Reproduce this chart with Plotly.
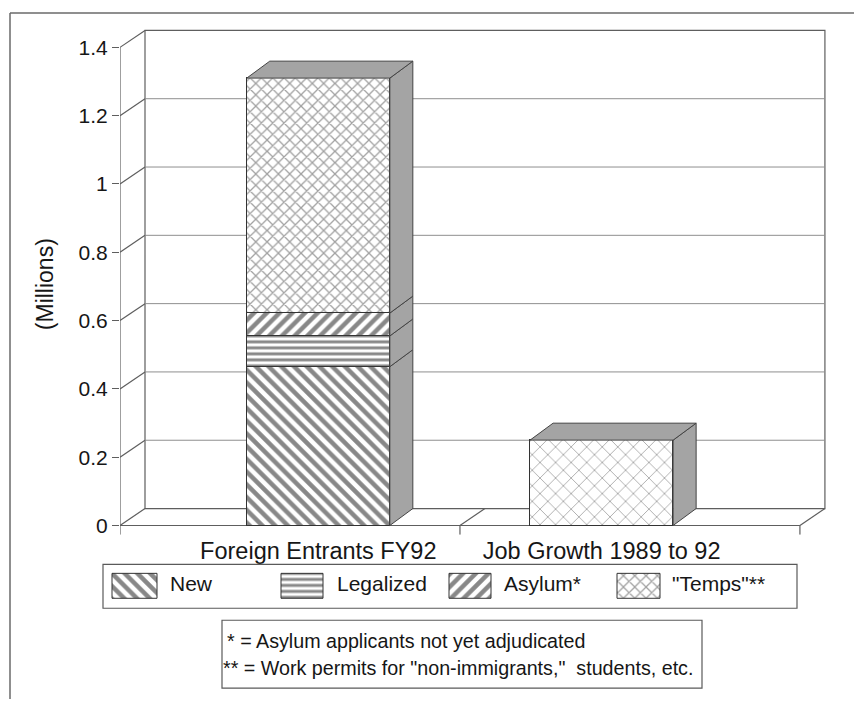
import plotly.graph_objects as go

# ---- data -------------------------------------------------------------
categories = ["Foreign Entrants FY92", "Job Growth 1989 to 92"]
series_names = ["New", "Legalized", "Asylum*", "\"Temps\"**"]
new_vals = [0.465, None]
legalized_vals = [0.09, None]
asylum_vals = [0.067, None]
temps_vals = [0.688, None]
job_growth_vals = [None, 0.25]
y_ticks = [0, 0.2, 0.4, 0.6, 0.8, 1.0, 1.2, 1.4]
y_tick_labels = ["0", "0.2", "0.4", "0.6", "0.8", "1", "1.2", "1.4"]
y_title = "(Millions)"
footnotes = [
    "* = Asylum applicants not yet adjudicated",
    "** = Work permits for \"non-immigrants,\"  students, etc.",
]

# ---- page / projection geometry --------------------------------------
W, H = 854, 701
FONT = "Liberation Sans, Arial, Helvetica, sans-serif"
INK = "#161616"
FRAME = "#5e5e5e"

PX_PER_X = 283.3          # pixels per category step
PX_PER_Y = 342.5          # pixels per million
LEFT_PX, ZERO_PX = 120, 527
X_RANGE = [-0.70, 1.80]
Y_RANGE = [-0.027, 1.46]
FLOOR_LO, FLOOR_HI = -0.70, 1.70   # front edge of the floor
DX, DY = 25 / PX_PER_X, 17 / PX_PER_Y      # wall depth offset
BDX, BDY = 23 / PX_PER_X, 17 / PX_PER_Y    # column depth offset
BAR_W = 0.505
SIDE_FILL = "#a4a4a4"


def px(x):
    return x / W


def py(y):
    return 1 - y / H


x_pos = list(range(len(categories)))

x_dom = [px(LEFT_PX), px(LEFT_PX + (X_RANGE[1] - X_RANGE[0]) * PX_PER_X)]
y_dom = [py(ZERO_PX - Y_RANGE[0] * PX_PER_Y), py(ZERO_PX - Y_RANGE[1] * PX_PER_Y)]

patterns = {
    "New": dict(shape="\\", size=9, solidity=0.5, fgcolor="#111111", bgcolor="white"),
    "Legalized": dict(shape="-", size=6, solidity=0.5, fgcolor="#111111", bgcolor="white"),
    "Asylum*": dict(shape="/", size=9, solidity=0.5, fgcolor="#111111", bgcolor="white"),
    "\"Temps\"**": dict(shape="x", size=8, solidity=0.3, fgcolor="#444444", bgcolor="white"),
}
job_pattern = dict(shape="x", size=11, solidity=0.16, fgcolor="#555555", bgcolor="white")

layers = [
    ("New", new_vals, patterns["New"]),
    ("Legalized", legalized_vals, patterns["Legalized"]),
    ("Asylum*", asylum_vals, patterns["Asylum*"]),
    ("\"Temps\"**", temps_vals, patterns["\"Temps\"**"]),
    ("Job growth", job_growth_vals, job_pattern),
]

fig = go.Figure()

# front faces of the stacked columns
for name, vals, pat in layers:
    fig.add_trace(go.Bar(
        x=x_pos, y=vals, width=BAR_W, name=name, showlegend=False,
        marker=dict(color="white", pattern=pat, line=dict(color="#333333", width=1)),
        hoverinfo="skip",
    ))

# side and top faces of each column, derived from the stacked values
for i in x_pos:
    xr = x_pos[i] + BAR_W / 2
    xl = x_pos[i] - BAR_W / 2
    cum = 0.0
    for name, vals, pat in layers:
        v = vals[i]
        if v is None:
            continue
        b, t = cum, cum + v
        fig.add_trace(go.Scatter(
            x=[xr, xr + BDX, xr + BDX, xr, xr],
            y=[b, b + BDY, t + BDY, t, b],
            mode="lines", fill="toself", fillcolor=SIDE_FILL,
            line=dict(color="#444444", width=1), showlegend=False, hoverinfo="skip",
        ))
        cum = t
    fig.add_trace(go.Scatter(
        x=[xl, xr, xr + BDX, xl + BDX, xl],
        y=[cum, cum, cum + BDY, cum + BDY, cum],
        mode="lines", fill="toself", fillcolor=SIDE_FILL,
        line=dict(color="#444444", width=1), showlegend=False, hoverinfo="skip",
    ))

# ---- 3-D frame: back wall, side wall, floor ---------------------------
shapes = []
line_frame = dict(color=FRAME, width=1.2)
line_grid = dict(color="#8f8f8f", width=1)

shapes.append(dict(type="rect", xref="x", yref="y", layer="below",
                   x0=FLOOR_LO + DX, x1=FLOOR_HI + DX, y0=DY, y1=y_ticks[-1] + DY,
                   line=line_frame, fillcolor="white"))
for t in y_ticks[1:-1]:
    shapes.append(dict(type="line", xref="x", yref="y", layer="below",
                       x0=FLOOR_LO + DX, x1=FLOOR_HI + DX, y0=t + DY, y1=t + DY,
                       line=line_grid))
# left wall: front axis and depth connectors
shapes.append(dict(type="line", xref="x", yref="y", layer="below",
                   x0=FLOOR_LO, x1=FLOOR_LO, y0=0, y1=y_ticks[-1], line=line_frame))
for t in y_ticks:
    shapes.append(dict(type="line", xref="x", yref="y", layer="below",
                       x0=FLOOR_LO, x1=FLOOR_LO + DX, y0=t, y1=t + DY, line=line_frame))
# floor
shapes.append(dict(type="line", xref="x", yref="y", layer="below",
                   x0=FLOOR_LO, x1=FLOOR_HI, y0=0, y1=0, line=line_frame))
cat_bounds = [FLOOR_LO] + [(x_pos[k] + x_pos[k + 1]) / 2 for k in range(len(x_pos) - 1)] + [FLOOR_HI]
for xb in cat_bounds[1:]:
    shapes.append(dict(type="line", xref="x", yref="y", layer="below",
                       x0=xb, x1=xb + DX, y0=0, y1=DY, line=line_frame))
for xb in cat_bounds:
    shapes.append(dict(type="line", xref="x", yref="y", layer="below",
                       x0=xb, x1=xb, y0=0, y1=Y_RANGE[0], line=line_frame))

# outer border of the page
shapes.append(dict(type="line", xref="paper", yref="paper",
                   x0=px(10), x1=px(W), y0=py(13), y1=py(13),
                   line=dict(color="#6a6a6a", width=1.5)))
shapes.append(dict(type="line", xref="paper", yref="paper",
                   x0=px(10), x1=px(10), y0=py(13), y1=py(H),
                   line=dict(color="#6a6a6a", width=1.5)))

# ---- legend (drawn on its own small axes) -----------------------------
LEG_BOX = (103, 797, 566, 610)
shapes.append(dict(type="rect", xref="paper", yref="paper",
                   x0=px(LEG_BOX[0]), x1=px(LEG_BOX[1]), y0=py(LEG_BOX[3]), y1=py(LEG_BOX[2]),
                   line=dict(color="#5a5a5a", width=1.2)))
swatch_x = [(112, 157), (281, 323), (449, 491), (617, 660)]
label_x = [168, 335, 502, 670]
sw_y0, sw_y1 = 575, 600
annotations = []
for name, (sx0, sx1), lx in zip(series_names, swatch_x, label_x):
    fig.add_trace(go.Scatter(
        x=[sx0, sx1, sx1, sx0, sx0], y=[sw_y0, sw_y0, sw_y1, sw_y1, sw_y0],
        xaxis="x2", yaxis="y2", mode="lines", fill="toself", fillcolor="white",
        fillpattern=patterns[name], line=dict(color="#333333", width=1),
        showlegend=False, hoverinfo="skip",
    ))
    annotations.append(dict(text=name, xref="paper", yref="paper", x=px(lx), y=py(585),
                            xanchor="left", yanchor="middle", showarrow=False,
                            font=dict(family=FONT, size=21, color=INK)))

# ---- footnote box ----------------------------------------------------
shapes.append(dict(type="rect", xref="paper", yref="paper",
                   x0=px(222), x1=px(702), y0=py(690), y1=py(622),
                   line=dict(color="#5a5a5a", width=1.2)))
for txt, fx, fy in zip(footnotes, [225, 221], [643, 670]):
    annotations.append(dict(text=txt, xref="paper", yref="paper", x=px(fx), y=py(fy),
                            xanchor="left", yanchor="middle", showarrow=False,
                            font=dict(family=FONT, size=19.7, color=INK)))

annotations.append(dict(text=y_title, xref="paper", yref="paper", x=px(45), y=py(285),
                        textangle=-90, showarrow=False, xanchor="center", yanchor="middle",
                        font=dict(family=FONT, size=23, color=INK)))

fig.update_layout(
    width=W, height=H, margin=dict(l=0, r=0, t=0, b=0),
    paper_bgcolor="white", plot_bgcolor="rgba(0,0,0,0)",
    barmode="stack", bargap=0, showlegend=False,
    font=dict(family=FONT, color=INK),
    shapes=shapes, annotations=annotations,
    xaxis=dict(domain=x_dom, range=X_RANGE, tickvals=x_pos, ticktext=categories,
               showgrid=False, zeroline=False, showline=False, ticks="",
               tickfont=dict(size=23.5, color=INK), fixedrange=True),
    yaxis=dict(domain=y_dom, range=Y_RANGE, tickvals=y_ticks, ticktext=y_tick_labels,
               showgrid=False, zeroline=False, showline=False, ticks="outside",
               ticklen=7, tickcolor=FRAME, tickwidth=1.2,
               tickfont=dict(size=21, color=INK), fixedrange=True),
    xaxis2=dict(domain=[px(LEG_BOX[0]), px(LEG_BOX[1])], range=[LEG_BOX[0], LEG_BOX[1]],
                visible=False, fixedrange=True, anchor="y2"),
    yaxis2=dict(domain=[py(LEG_BOX[3]), py(LEG_BOX[2])], range=[LEG_BOX[3], LEG_BOX[2]],
                visible=False, fixedrange=True, anchor="x2"),
)

fig.write_html("out.html")
